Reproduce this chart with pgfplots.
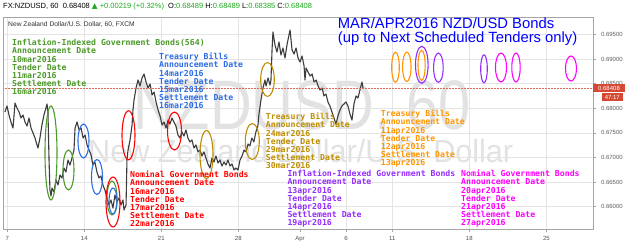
\documentclass[border=0pt]{standalone}
\usepackage{pgfplots}
\usepackage{pgfplotstable}
\pgfplotsset{compat=1.18}
\usepackage{fontspec}
\setmainfont{Liberation Sans}
\newfontfamily\monofont{DejaVu Sans Mono Bold}
\newfontfamily\symfont{DejaVu Sans}

\definecolor{cgreen}{RGB}{76,154,42}
\definecolor{cblue}{RGB}{45,110,230}
\definecolor{cred}{RGB}{255,0,0}
\definecolor{cgold}{RGB}{190,142,0}
\definecolor{corange}{RGB}{255,150,0}
\definecolor{cpurple}{RGB}{150,45,255}
\definecolor{cmag}{RGB}{255,0,255}
\definecolor{ctitle}{RGB}{0,0,255}
\definecolor{hdrgreen}{RGB}{30,170,30}
\definecolor{pricebox}{RGB}{212,72,52}
\definecolor{wm}{RGB}{226,226,226}
\definecolor{gridc}{RGB}{228,228,228}
\definecolor{axc}{RGB}{165,165,165}
\definecolor{candle}{RGB}{60,60,60}

\pgfplotstableread{
t p
-0.15 0.67925
-0.02 0.68047
0.11 0.67864
0.24 0.67721
0.37 0.67599
0.44 0.67864
0.50 0.68107
0.63 0.68006
0.76 0.67925
0.89 0.67803
1.02 0.67864
1.15 0.67721
1.28 0.67640
1.41 0.67803
1.54 0.67599
1.67 0.67498
1.80 0.67396
1.93 0.67254
1.99 0.67193
2.12 0.67396
2.25 0.67660
2.38 0.67864
2.51 0.68006
2.58 0.68087
2.64 0.67925
2.71 0.66949
2.77 0.66339
2.84 0.66217
2.90 0.66380
3.03 0.66299
3.16 0.66543
3.29 0.66441
3.42 0.66644
3.55 0.66583
3.68 0.66786
3.81 0.66705
3.94 0.66949
4.07 0.66847
4.20 0.66990
4.33 0.67152
4.40 0.67599
4.53 0.67721
4.66 0.67559
4.79 0.67599
4.92 0.67396
5.05 0.67457
5.18 0.67254
5.31 0.67152
5.44 0.67051
5.56 0.66847
5.69 0.66908
5.82 0.66705
5.95 0.66583
6.08 0.66624
6.21 0.66441
6.34 0.66339
6.47 0.66177
6.60 0.66034
6.73 0.66136
6.86 0.65973
6.99 0.66238
7.12 0.66095
7.25 0.66177
7.38 0.66034
7.51 0.66136
7.58 0.65933
7.71 0.66034
7.77 0.66949
7.84 0.67152
7.97 0.67356
8.10 0.67660
8.16 0.67965
8.23 0.68169
8.36 0.68412
8.49 0.68575
8.62 0.68453
8.75 0.68616
8.88 0.68697
9.01 0.68534
9.14 0.68412
9.27 0.68494
9.40 0.68270
9.53 0.68331
9.66 0.68128
9.79 0.67965
9.92 0.67843
10.05 0.67660
10.18 0.67721
10.31 0.67599
10.44 0.67762
10.56 0.67681
10.69 0.67803
10.82 0.67721
10.95 0.67640
11.08 0.67457
11.21 0.67396
11.34 0.67518
11.47 0.67437
11.60 0.67559
11.73 0.67396
11.86 0.67315
11.99 0.67356
12.12 0.67193
12.25 0.67254
12.38 0.67112
12.51 0.67152
12.64 0.67030
12.77 0.67112
12.90 0.66990
13.03 0.66868
13.16 0.66786
13.29 0.66990
13.42 0.66908
13.55 0.67030
13.68 0.66888
13.81 0.66949
13.94 0.66827
14.07 0.66908
14.20 0.66847
14.33 0.66949
14.46 0.66827
14.59 0.66868
14.72 0.66746
14.85 0.66786
14.98 0.66746
15.11 0.66949
15.24 0.67030
15.37 0.67152
15.50 0.67112
15.63 0.67274
15.75 0.67234
15.88 0.67396
16.01 0.67315
16.14 0.67518
16.27 0.67640
16.34 0.67884
16.47 0.68169
16.60 0.68412
16.73 0.68575
16.80 0.68453
16.93 0.68616
17.06 0.68473
17.12 0.68575
17.19 0.69185
17.25 0.69551
17.38 0.69286
17.51 0.69144
17.64 0.69347
17.77 0.69083
17.90 0.69225
18.03 0.69022
18.16 0.69286
18.29 0.69490
18.36 0.69591
18.49 0.69185
18.62 0.69103
18.75 0.69225
18.88 0.69022
19.01 0.68941
19.14 0.69063
19.27 0.68860
19.33 0.68575
19.40 0.68819
19.53 0.68738
19.66 0.68656
19.79 0.68697
19.92 0.68534
20.05 0.68575
20.18 0.68453
20.31 0.68372
20.44 0.68412
20.56 0.68250
20.69 0.68290
20.82 0.68128
20.95 0.68047
21.08 0.67925
21.21 0.67803
21.34 0.67681
21.47 0.67843
21.60 0.67965
21.73 0.68047
21.86 0.68087
21.99 0.68128
22.12 0.68047
22.25 0.67884
22.38 0.67762
22.51 0.68087
22.64 0.68250
22.77 0.68209
22.90 0.68372
23.03 0.68534
23.10 0.68412
}\pricedata

\newcommand{\block}[4]{\node[anchor=north west, inner sep=0pt, align=left, text=#3, font=\monofont\fontsize{8.2}{8.1}\selectfont] at (#1,#2) {#4};}

\begin{document}
\begin{tikzpicture}[x=1pt,y=1pt]
\path[use as bounding box] (0,0) rectangle (625,244);
\fill[white] (0,0) rectangle (625,244);
% watermark
\node[anchor=base west, inner sep=0pt, xscale=0.826, text=wm, font=\fontsize{70}{70}\selectfont] at (133,114) {NZDUSD, 60};
\node[anchor=base west, inner sep=0pt, xscale=0.956, text=wm, font=\fontsize{32}{32}\selectfont] at (88,81) {New Zealand Dollar/U.S. Dollar};

\begin{axis}[
  at={(3pt,15pt)}, anchor=south west,
  scale only axis, width=590pt, height=212pt,
  xmin=-0.279, xmax=38.03, ymin=0.655466, ymax=0.698555,
  axis line style={draw=axc},
  xtick={0,5,10,15,19,22,25,30,35},
  xticklabels={7,14,21,28,Apr,6,11,18,25},
  ytick={0.660,0.665,0.670,0.675,0.680,0.685,0.690,0.695},
  scaled y ticks=false,
  xtick pos=left, ytick pos=right, yticklabel pos=right,
  tick align=outside, major tick length=3pt,
  tick style={draw=axc, line width=0.5pt},
  grid=major, major grid style={draw=gridc, line width=0.5pt},
  /pgf/number format/.cd, fixed, fixed zerofill, precision=5, assume math mode=true,
  /pgfplots/.cd,
  yticklabel style={font=\fontsize{6}{6}\selectfont, text={rgb,255:red,95;green,95;blue,95}, xshift=1.5pt},
  xticklabel style={font=\fontsize{6}{6}\selectfont, text={rgb,255:red,80;green,80;blue,80}, yshift=-0.5pt},
]
\addplot[candle, line width=1.1pt, line join=round] table[x=t, y=p] {\pricedata};
\addplot[pricebox!80, densely dotted, line width=0.5pt, forget plot] coordinates {(-0.279,0.68408) (38.03,0.68408)};
\end{axis}

% header
\node[anchor=base west, inner sep=0pt, font=\fontsize{7.5}{8}\selectfont] at (3,235.7) {FX:NZDUSD, 60\ \ 0.68408 {\color{hdrgreen}{\symfont ▲} +0.00219 (+0.32\%)}\ \ O:{\color{hdrgreen}0.68489} H:{\color{hdrgreen}0.68489} L:{\color{hdrgreen}0.68385} C:{\color{hdrgreen}0.68408}};
\node[anchor=base west, inner sep=0pt, text={rgb,255:red,50;green,50;blue,50}, font=\fontsize{6.7}{7}\selectfont] at (8,217.3) {New Zealand Dollar/U.S. Dollar, 60, FXCM};

% title
\node[anchor=base west, inner sep=0pt, text=ctitle, font=\fontsize{14.8}{15}\selectfont] at (337.7,215.7) {MAR/APR2016 NZD/USD Bonds};
\node[anchor=base west, inner sep=0pt, text=ctitle, font=\fontsize{14.8}{15}\selectfont] at (337.7,201.7) {(up to Next Scheduled Tenders only)};

% price boxes
\fill[pricebox] (593,151.7) rectangle (625,159.7);
\node[text=white, font=\fontsize{6}{6}\selectfont, inner sep=0pt] at (609,155.7) {0.68408};
\fill[pricebox] (601.7,143) rectangle (623,151);
\node[text=white, font=\fontsize{6}{6}\selectfont, inner sep=0pt] at (612.3,147) {47:17};

% ovals
\begin{scope}[line width=1.1pt]
\draw[cgreen] (51,91) ellipse [x radius=6pt, y radius=47pt];
\draw[cgreen] (68.5,74) ellipse [x radius=5.5pt, y radius=20pt];
\draw[cgreen] (112,46) ellipse [x radius=5pt, y radius=17pt];
\draw[cblue] (83.5,103) ellipse [x radius=5.5pt, y radius=17pt];
\draw[cblue] (97,67) ellipse [x radius=5.5pt, y radius=17.5pt];
\draw[cblue] (113,43) ellipse [x radius=4pt, y radius=13pt];
\draw[cred] (113,42) ellipse [x radius=7pt, y radius=25pt];
\draw[cred] (128.5,108.7) ellipse [x radius=6.5pt, y radius=24.5pt];
\draw[cred] (174.5,113) ellipse [x radius=7pt, y radius=19pt];
\draw[cgold] (206.5,89.5) ellipse [x radius=6.5pt, y radius=24pt];
\draw[cgold] (252.3,102.5) ellipse [x radius=7pt, y radius=18pt];
\draw[cgold] (267.5,164.5) ellipse [x radius=6.8pt, y radius=17pt];
\draw[corange] (395.5,176.8) ellipse [x radius=3.8pt, y radius=15pt];
\draw[corange] (406.8,177.2) ellipse [x radius=4.2pt, y radius=14.7pt];
\draw[cpurple] (421.8,179.2) ellipse [x radius=6.3pt, y radius=18.5pt];
\draw[corange] (421.6,178.7) ellipse [x radius=3.6pt, y radius=15pt];
\draw[cpurple] (438.4,176.3) ellipse [x radius=4.8pt, y radius=14.6pt];
\draw[cpurple] (484,175.2) ellipse [x radius=3.3pt, y radius=14pt];
\draw[cmag] (501,176.5) ellipse [x radius=5.5pt, y radius=14.5pt];
\draw[cmag] (516,176.5) ellipse [x radius=4.2pt, y radius=14.5pt];
\draw[cmag] (571,175.5) ellipse [x radius=5.5pt, y radius=12.5pt];
\end{scope}

% annotation blocks
\block{12}{205}{cgreen}{Inflation-Indexed Government Bonds(564)\\Announcement Date\\10mar2016\\Tender Date\\11mar2016\\Settlement Date\\16mar2016}
\block{159}{191}{cblue}{Treasury Bills\\Announcement Date\\14mar2016\\Tender Date\\15mar2016\\Settlement Date\\16mar2016}
\block{130}{73}{cred}{Nominal Government Bonds\\Announcement Date\\16mar2016\\Tender Date\\17mar2016\\Settlement Date\\22mar2016}
\block{265.7}{131}{cgold}{Treasury Bills\\Announcement Date\\24mar2016\\Tender Date\\29mar2016\\Settlement Date\\30mar2016}
\block{380.7}{134}{corange}{Treasury Bills\\Announcement Date\\11apr2016\\Tender Date\\12apr2016\\Settlement Date\\13apr2016}
\block{287.3}{74}{cpurple}{Inflation-Indexed Government Bonds\\Announcement Date\\13apr2016\\Tender Date\\14apr2016\\Settlement Date\\19apr2016}
\block{461}{74}{cmag}{Nominal Government Bonds\\Announcement Date\\20apr2016\\Tender Date\\21apr2016\\Settlement Date\\27apr2016}
\end{tikzpicture}
\end{document}
